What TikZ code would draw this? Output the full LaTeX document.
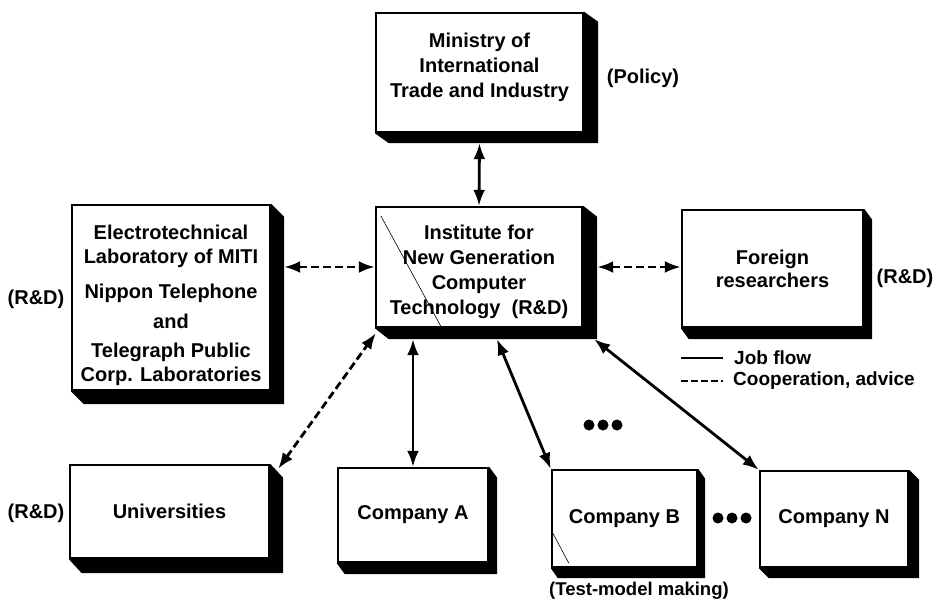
\documentclass[tikz,border=0pt]{standalone}
\usepackage{fontspec}
\setmainfont{Liberation Sans}
\usetikzlibrary{arrows.meta}
\begin{document}
\begin{tikzpicture}[x=1pt,y=-1pt,
  face/.style={draw=black, fill=white, line width=2.4pt, inner sep=0pt, align=center,
    font=\bfseries\fontsize{20}{25}\selectfont},
  lbl/.style={inner sep=0pt, font=\bfseries\fontsize{20}{23}\selectfont},
  job/.style={line width=2.8pt, {Latex[length=16pt,width=12pt]}-{Latex[length=16pt,width=12pt]}},
  coop/.style={job, dash pattern=on 8pt off 4pt},
  dotmark/.style={circle, fill=black, inner sep=0pt, minimum size=11pt}]
\useasboundingbox (0,0) rectangle (935,603);

% boxes
\node[face, minimum width=207pt, minimum height=119pt] (miti) at (479.5,72.5)
  {Ministry of\\International\\Trade and Industry\\[-11pt]\mbox{}};
\node[face, minimum width=206pt, minimum height=120pt] (inst) at (479,267)
  {\rule{0pt}{25pt}Institute for\\New Generation\\Computer\\Technology\ \ (R\&D)};
\node[face, minimum width=198pt, minimum height=185pt, font=\bfseries\fontsize{20}{24}\selectfont] (etl) at (171,297.5)
  {\rule{0pt}{31pt}Electrotechnical\\Laboratory of MITI\\[11pt]Nippon Telephone\\[6pt]and\\[5pt]Telegraph Public\\Corp. Laboratories};
\node[face, minimum width=181pt, minimum height=117pt, font=\bfseries\fontsize{20}{23}\selectfont] (foreign) at (772.5,268.5)
  {Foreign\\researchers};
\node[face, minimum width=199pt, minimum height=93pt] (univ) at (169.5,511.5) {Universities};
\node[face, minimum width=150pt, minimum height=94pt] (compA) at (413,515) {Company A};
\node[face, minimum width=145pt, minimum height=97pt] (compB) at (624.5,518.5) {Company B};
\node[face, minimum width=148pt, minimum height=96pt] (compN) at (834,519) {Company N};

% 3D shadows
\foreach \n/\dx/\dy in {miti/14/10, inst/14/11, etl/13/13, foreign/8/11, univ/13/14, compA/8/11, compB/7/10, compN/10/10}
  \fill[black] (\n.north east) -- ++(\dx pt,-\dy pt) -- ([shift={(\dx pt,-\dy pt)}]\n.south east)
    -- ([shift={(\dx pt,-\dy pt)}]\n.south west) -- (\n.south west) -- (\n.south east) -- cycle;

% scan streaks
\draw[line width=0.6pt] ([shift={(6pt,-10pt)}]inst.north west) -- ([shift={(66pt,2pt)}]inst.south west);
\draw[line width=0.6pt] ([shift={(1pt,37pt)}]compB.south west) -- ([shift={(18pt,5pt)}]compB.south west);

% side labels
\node[lbl] (policy) at (643,78) {(Policy)};
\node[lbl] (rdetl) at (36,299) {(R\&D)};
\node[lbl] (rdfor) at (905,278) {(R\&D)};
\node[lbl] (rduniv) at (36,513) {(R\&D)};
\node[lbl, font=\bfseries\fontsize{18.5}{20}\selectfont] (test) at (639,591) {(Test-model making)};

% connectors
\draw[job] ([yshift=-10pt]miti.south) -- (inst.north);
\draw[coop] ([xshift=13pt]etl.east |- inst.west) -- (inst.west);
\draw[coop] ([xshift=14pt]inst.east) -- (foreign.west |- inst.east);
\draw[coop] ([shift={(8pt,-5pt)}]univ.north east) -- ([shift={(1pt,-5pt)}]inst.south west);
\draw[job] ([yshift=-11pt]compA.north |- inst.south) -- (compA.north);
\draw[job] ([shift={(18pt,-11pt)}]inst.south) -- (compB.north west);
\draw[job] ([shift={(11pt,-11pt)}]inst.south east) -- (compN.north west);

% ellipsis dots
\foreach \i in {0,1,2} {
  \node[dotmark] (da\i) at (589+\i*14,425) {};
  \node[dotmark] (db\i) at (718+\i*14,518) {};
}

% legend
\coordinate (jfa) at (681,358);
\coordinate (jfb) at (723,358);
\coordinate (cpa) at (681,381);
\coordinate (cpb) at (723,381);
\node[lbl, anchor=west, font=\bfseries\fontsize{19}{21}\selectfont] (jobflow) at (734,358) {Job flow};
\node[lbl, anchor=west, font=\bfseries\fontsize{19}{21}\selectfont] (coopadv) at (733,381) {Cooperation, advice};
\draw[line width=1.8pt] (jfa) -- (jfb);
\draw[line width=2.4pt, dash pattern=on 7pt off 3pt] (cpa) -- (cpb);
\end{tikzpicture}
\end{document}
